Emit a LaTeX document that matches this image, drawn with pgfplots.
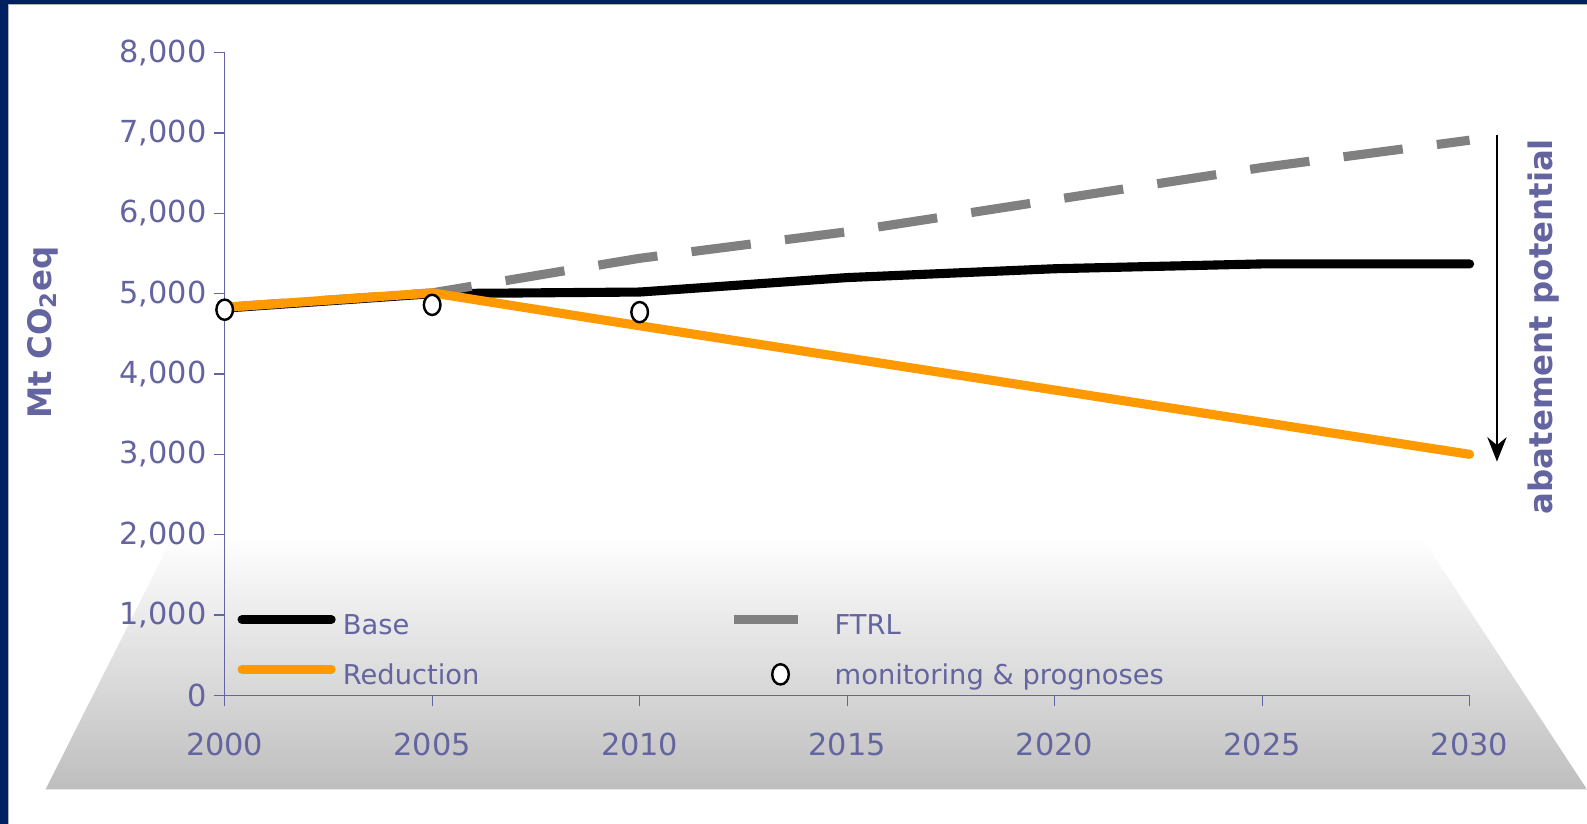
\documentclass[border=0pt]{standalone}
\usepackage{fontspec}
\setmainfont{DejaVu Sans}
\usepackage{pgfplots}
\pgfplotsset{compat=1.18}
\usetikzlibrary{arrows.meta}
\definecolor{txtblue}{RGB}{100,100,160}
\definecolor{navyb}{RGB}{0,32,96}
\definecolor{orng}{RGB}{255,153,0}
\definecolor{ftrlgray}{RGB}{128,128,128}
\definecolor{floorgray}{RGB}{190,190,190}
\pgfplotsset{
  legline/.style={legend image code/.code={\draw[##1] (0pt,3pt) -- (44pt,3pt); \path (0pt,0pt) (46pt,0pt);}},
  legshort/.style={legend image code/.code={\draw[##1, solid] (0pt,3pt) -- (31.5pt,3pt); \path (0pt,0pt) (46pt,0pt);}},
  legmark/.style={legend image code/.code={\draw[##1] plot coordinates {(23pt,0.5pt)}; \path (0pt,0pt) (46pt,0pt);}},
}
\begin{document}
\begin{tikzpicture}
\fill[navyb] (-111pt,-63.5pt) rectangle (673pt,343.5pt);
\fill[white] (-107pt,-63.5pt) rectangle (673pt,341.5pt);
\draw[gray!60, line width=0.6pt] (-106.7pt,-63.5pt) -- (-106.7pt,341.2pt) -- (673pt,341.2pt);
\shade[top color=white, bottom color=floorgray] (-88.5pt,-46.5pt) -- (673pt,-46.5pt) -- (591pt,78.5pt) -- (-25.5pt,78.5pt) -- cycle;
\begin{axis}[
  at={(0pt,0pt)}, anchor=south west,
  scale only axis, width=615pt, height=317.5pt,
  xmin=2000, xmax=2030, ymin=0, ymax=8000,
  xtick={2000,2005,...,2030}, ytick={0,1000,...,8000},
  axis lines=left, axis line style={-, draw=txtblue, line width=0.6pt},
  tick align=outside, major tick length=5.5pt,
  tick style={draw=txtblue, line width=0.6pt},
  tick label style={font=\fontsize{15}{18}\selectfont, text=txtblue, /pgf/number format/assume math mode=true},
  y tick label style={/pgf/number format/1000 sep={,}},
  x tick label style={/pgf/number format/1000 sep={}, yshift=-9.5pt},
  ylabel={\bfseries Mt CO\textsubscript{2}eq},
  ylabel style={at={(rel axis cs:-0.1463,0.565)}, anchor=center, font=\fontsize{16}{19}\selectfont, text=txtblue},
  clip=false,
  legend columns=2,
  legend cell align=left,
  legend style={draw=none, fill=none, at={(axis cs:2000.3,555)}, anchor=west,
    font=\fontsize{13.5}{16}\selectfont, text=txtblue, inner sep=0pt,
    nodes={inner sep=1.5pt}, row sep=10pt,
    /tikz/every even column/.append style={column sep=122pt}},
]
\addplot[black, line width=4.5pt, line cap=round, legline]
  coordinates {(2000,4820) (2005,5000) (2010,5020) (2015,5200) (2020,5310) (2025,5370) (2030,5370)};
\addlegendentry{Base}
\addplot[ftrlgray, line width=4.5pt, dash pattern=on 29.5pt off 17pt, legshort]
  coordinates {(2000,4830) (2005,5010) (2010,5440) (2015,5770) (2020,6170) (2025,6570) (2030,6910)};
\addlegendentry{FTRL}
\addplot[orng, line width=4.5pt, line cap=round, legline]
  coordinates {(2000,4830) (2005,5010) (2010,4600) (2015,4200) (2020,3800) (2025,3400) (2030,3000)};
\addlegendentry{Reduction}
\addplot[only marks, mark=*, mark size=5pt, mark options={fill=white, draw=black, line width=1.2pt, xscale=0.82}, legmark]
  coordinates {(2000,4800) (2005,4860) (2010,4770)};
\addlegendentry{monitoring \& prognoses}
\draw[-{Stealth[length=12pt, width=9.5pt]}, line width=1.2pt] (axis cs:2030.66,6980) -- (axis cs:2030.66,2910);
\node[rotate=90, text=txtblue, font=\fontsize{16}{19}\selectfont\bfseries] at (axis cs:2031.78,4590) {abatement potential};
\end{axis}
\pgfresetboundingbox
\useasboundingbox (-111pt,-63.5pt) rectangle (673pt,343.5pt);
\end{tikzpicture}
\end{document}
